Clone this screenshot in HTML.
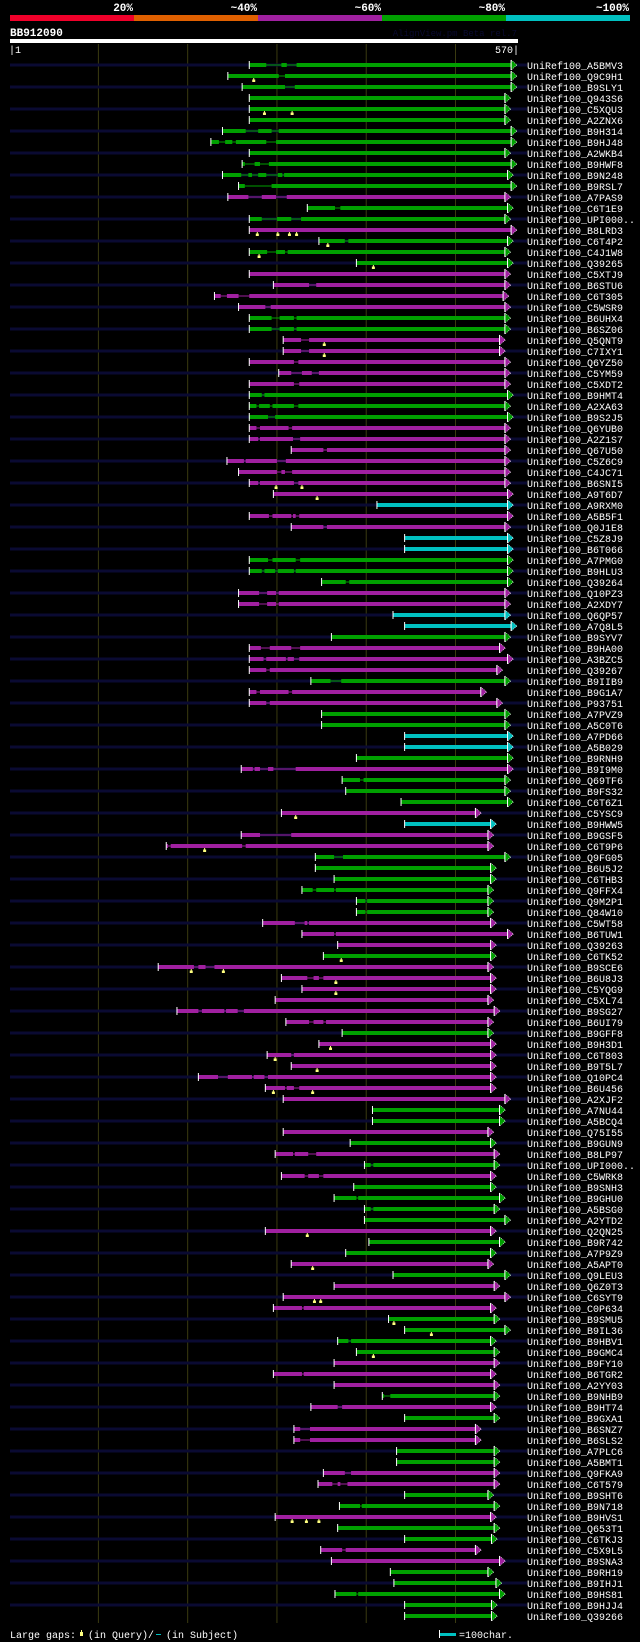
<!DOCTYPE html>
<html><head><meta charset="utf-8"><style>
html,body{margin:0;padding:0;background:#000;}
svg{display:block;font-family:"Liberation Mono",monospace;}
</style></head><body>
<svg id="chart" width="640" height="1642" viewBox="0 0 640 1642" xmlns="http://www.w3.org/2000/svg">
<rect width="640" height="1642" fill="#000"/>
<g>
<rect x="10" y="15" width="124" height="6" fill="#f0002a"/>
<rect x="134" y="15" width="124" height="6" fill="#e06000"/>
<rect x="258" y="15" width="124" height="6" fill="#a020a0"/>
<rect x="382" y="15" width="124" height="6" fill="#00a000"/>
<rect x="506" y="15" width="124" height="6" fill="#00c0c0"/>
<g font-size="11" font-weight="bold" fill="#fff">
<text x="133" y="11" text-anchor="end">20%</text>
<text x="257" y="11" text-anchor="end">~40%</text>
<text x="381" y="11" text-anchor="end">~60%</text>
<text x="505" y="11" text-anchor="end">~80%</text>
<text x="629" y="11" text-anchor="end">~100%</text>
</g></g>
<text x="10" y="36" font-size="11" font-weight="bold" fill="#fff">BB912090</text>
<text x="517" y="36" font-size="9" fill="#0a0a30" text-anchor="end">AlignView.pm Beta rel.7</text>
<rect x="10" y="39" width="508" height="4" fill="#fff"/>
<text x="9" y="53" font-size="10" fill="#fff">|1</text>
<text x="519" y="53" font-size="10" fill="#fff" text-anchor="end">570|</text>
<g id="grid"></g>
<g id="rows"></g>
<g font-size="10" fill="#fff">
<text x="10" y="1638">Large gaps:</text>
<rect x="80" y="1632" width="3" height="4" fill="#ffff80"/>
<rect x="81" y="1630" width="1" height="2" fill="#ffff80"/>
<text x="88" y="1638">(in Query)/</text>
<rect x="156" y="1634" width="5" height="1" fill="#00c0c0"/>
<text x="166" y="1638">(in Subject)</text>
<rect x="439" y="1630" width="1" height="8" fill="#fff"/>
<rect x="440" y="1633" width="16" height="3" fill="#00c0c0"/>
<text x="459" y="1638">=100char.</text>
</g>
</svg>
<script>
const labels=["A5BMV3","Q9C9H1","B9SLY1","Q943S6","C5XQU3","A2ZNX6","B9H314","B9HJ48","A2WKB4","B9HWF8","B9N248","B9RSL7","A7PAS9","C6T1E9","UPI000..","B8LRD3","C6T4P2","C4J1W8","Q39265","C5XTJ9","B6STU6","C6T305","C5WSR9","B6UHX4","B6SZ06","Q5QNT9","C7IXY1","Q6YZ50","C5YM59","C5XDT2","B9HMT4","A2XA63","B9S2J5","Q6YUB0","A2Z1S7","Q67U50","C5Z6C9","C4JC71","B6SNI5","A9T6D7","A9RXM0","A5B5F1","Q0J1E8","C5Z8J9","B6T066","A7PMG0","B9HLU3","Q39264","Q10PZ3","A2XDY7","Q6QP57","A7Q8L5","B9SYV7","B9HA00","A3BZC5","Q39267","B9IIB9","B9G1A7","P93751","A7PVZ9","A5C0T6","A7PD66","A5B029","B9RNH9","B9I9M0","Q69TF6","B9FS32","C6T6Z1","C5YSC9","B9HWW5","B9GSF5","C6T9P6","Q9FG05","B6U5J2","C6THB3","Q9FFX4","Q9M2P1","Q84W10","C5WT58","B6TUW1","Q39263","C6TK52","B9SCE6","B6U8J3","C5YQG9","C5XL74","B9SG27","B6UI79","B9GFF8","B9H3D1","C6T803","B9T5L7","Q10PC4","B6U456","A2XJF2","A7NU44","A5BCQ4","Q75I55","B9GUN9","B8LP97","UPI000..","C5WRK8","B9SNH3","B9GHU0","A5BSG0","A2YTD2","Q2QN25","B9R742","A7P9Z9","A5APT0","Q9LEU3","Q6Z0T3","C6SYT9","C0P634","B9SMU5","B9IL36","B9HBV1","B9GMC4","B9FY10","B6TGR2","A2YY03","B9NHB9","B9HT74","B9GXA1","B6SNZ7","B6SLS2","A7PLC6","A5BMT1","Q9FKA9","C6T579","B9SHT6","B9N718","B9HVS1","Q653T1","C6TKJ3","C5X9L5","B9SNA3","B9RH19","B9IHJ1","B9HS81","B9HJJ4","Q39266"];
const starts=[269,245,261,269,269,269,239,226,269,261,239,257,245,334,269,269,347,269,389,269,296,230,257,269,269,307,307,269,302,269,269,269,269,269,269,316,244,257,269,296,412,269,316,443,443,269,269,350,257,257,430,443,361,269,269,269,338,269,269,350,350,443,443,389,260,373,377,439,305,443,260,176,343,343,364,328,389,389,284,328,368,352,167,305,328,298,188,310,373,347,289,316,212,287,307,407,407,307,382,298,398,305,386,364,398,398,287,403,377,316,430,364,307,296,425,443,368,389,364,296,364,418,338,443,319,319,434,434,352,346,443,370,298,368,443,349,361,427,431,365,443,443];
const ends=[569,569,569,562,562,562,569,569,562,569,565,569,562,565,562,569,565,562,565,562,562,560,562,562,562,556,556,562,562,562,565,562,565,562,562,562,562,562,562,565,565,565,562,565,565,565,565,565,562,562,562,569,562,556,565,553,562,535,553,562,562,565,565,565,565,562,562,565,529,546,543,543,562,546,546,543,543,543,546,565,546,546,543,546,546,543,550,543,543,546,546,546,546,546,562,556,556,543,546,550,550,546,546,556,550,562,546,556,546,543,562,550,562,546,550,562,546,550,550,546,550,550,546,550,529,529,550,550,550,550,543,550,546,550,547,529,556,543,552,556,547,547];
const identity="gggggggggggg"+"m"+"gg"+"m"+"ggg"+"mmmm"+"gg"+"mmmmm"+"ggg"+"mmmmmmm"+"c"+"mm"+"cc"+"ggg"+"mm"+"cc"+"g"+"mmm"+"g"+"mm"+"gg"+"cc"+"g"+"m"+"ggg"+"m"+"c"+"mm"+"gggggg"+"mmm"+"g"+"mmmmmm"+"g"+"mmmmmm"+"gg"+"m"+"g"+"m"+"g"+"m"+"gggg"+"m"+"gg"+"m"+"g"+"mmm"+"gggg"+"mmm"+"g"+"m"+"g"+"mm"+"gg"+"mm"+"gg"+"m"+"gg"+"mm"+"ggggg";
const gaps={1:[[288,305],[311,322]],2:[[302,309]],3:[[309,320]],7:[[265,279],[294,302]],8:[[235,242],[250,254],[288,299]],10:[[264,275],[281,291]],11:[[260,268],[272,279],[288,301],[306,308]],12:[[264,294]],13:[[268,283],[299,311]],14:[[365,371]],15:[[283,300],[316,327]],17:[[376,380]],18:[[289,299],[309,312]],21:[[336,344]],22:[[237,244],[257,269]],23:[[287,293]],24:[[294,303],[319,322]],25:[[294,303],[319,322]],26:[[327,336]],27:[[327,336]],28:[[319,324]],29:[[316,328],[339,347]],30:[[319,325]],31:[[283,286]],32:[[277,280],[292,295],[319,324]],33:[[290,298]],34:[[277,281],[313,317]],35:[[279,281],[318,326]],36:[[352,356]],37:[[263,265],[300,310]],38:[[300,305],[309,317]],39:[[279,281],[319,324]],42:[[291,295],[316,318],[321,325]],43:[[352,356]],46:[[290,295],[321,326]],47:[[283,286],[298,301],[319,321]],48:[[377,381]],49:[[280,289],[299,302]],50:[[280,289],[299,302]],54:[[282,292],[316,326]],55:[[285,288],[310,312],[319,325]],56:[[288,292]],57:[[360,372]],58:[[277,281],[313,317]],59:[[288,292]],65:[[273,275],[281,290],[296,321]],66:[[393,397]],71:[[281,316]],72:[[178,181],[261,265]],73:[[364,374]],76:[[340,344],[364,366]],77:[[399,401]],78:[[399,401]],79:[[320,331],[334,336]],80:[[364,366]],83:[[207,212],[220,230]],84:[[334,341],[347,352]],87:[[212,216],[241,243],[256,263]],88:[[336,341],[352,355]],91:[[316,319]],93:[[234,245],[272,274],[286,290]],94:[[309,311],[319,325]],100:[[318,320],[335,344]],101:[[405,408]],102:[[331,335],[347,352]],104:[[389,391]],105:[[405,408]],114:[[328,330]],117:[[380,383]],120:[[328,330]],122:[[420,427]],123:[[368,373]],125:[[326,337]],126:[[326,337]],129:[[376,383]],130:[[362,368],[371,379]],132:[[393,395]],136:[[373,377]],140:[[389,391]]};
const queryGaps={2:[274],5:[286,317],16:[278,301,314,322],17:[357],18:[280],19:[408],26:[353],27:[353],39:[299,328],40:[345],69:[321],72:[219],82:[372],83:[204,240],84:[366],85:[366],90:[360],91:[298],92:[345],94:[296,340],107:[334],110:[340],113:[342,349],115:[431],116:[473],118:[408],133:[317,333,347]};
const gridTicks=[100,200,300,400,500];

const NS="http://www.w3.org/2000/svg";
const colors={g:"#00a000",m:"#a020a0",c:"#00c0c0"};
function xs(r){return 10+(r-1)*508/569;}
function ys(i){return 65+i*11;}
function mk(tag,attrs,parent){const e=document.createElementNS(NS,tag);for(const k in attrs)e.setAttribute(k,attrs[k]);parent.appendChild(e);return e;}

const grid=document.getElementById('grid');
gridTicks.forEach(t=>{
  const l=mk('rect',{x:xs(t)-0.5,y:44,width:1,height:1579,fill:'#3a3a10'},grid);
  
  
});

const rows=document.getElementById('rows');
labels.forEach((lab,i)=>{
  const y=ys(i);
  const g=mk('g',{},rows);
  
  
  if(i%2===0){
    const z=mk('rect',{x:10,y:y-1.5,width:517,height:3,fill:'#0a0a32'},g);
    
    
  }
  const col=colors[identity[i]];
  const s=xs(starts[i]), tip=xs(ends[i]), base=tip-6;
  const gl=(gaps[i+1]||[]).map(p=>[xs(p[0]),xs(p[1])]);
  const thin=mk('rect',{x:s,y:y-0.5,width:base-s,height:1,fill:col},g);
  
  
  let cur=s;
  const segs=[];
  gl.forEach(p=>{segs.push([cur,p[0]]);cur=p[1];});
  segs.push([cur,base]);
  segs.forEach(sg=>{
    if(sg[1]-sg[0]<=0)return;
    const b=mk('rect',{x:sg[0],y:y-2,width:sg[1]-sg[0],height:4,fill:col},g);
    
    
  });
  const st=mk('rect',{x:s-0.5,y:y-4,width:1,height:8,fill:'#fff'},g);
  
  
  const tri=mk('polygon',{points:`${base},${y-5} ${tip},${y} ${base},${y+5}`,fill:col,stroke:'#fff','stroke-width':'0.6','stroke-dasharray':'1 1'},g);
  
  
  const bl=mk('rect',{x:base-0.5,y:y-5,width:1,height:10,fill:'#fff'},g);
  
  
  (queryGaps[i+1]||[]).forEach(q=>{
    const mx=xs(q);
    const m1=mk('rect',{x:mx-0.5,y:y+2,width:1,height:1.5,fill:'#ffff80'},g);
    
    
    const m2=mk('rect',{x:mx-1.5,y:y+3.5,width:3,height:2.5,fill:'#ffff80'},g);
    
    
  });
  const t=mk('text',{x:527,y:y+4,'font-size':'10',fill:'#fff'},g);
  t.textContent='UniRef100_'+lab;
  
  
});
</script>
</body></html>
